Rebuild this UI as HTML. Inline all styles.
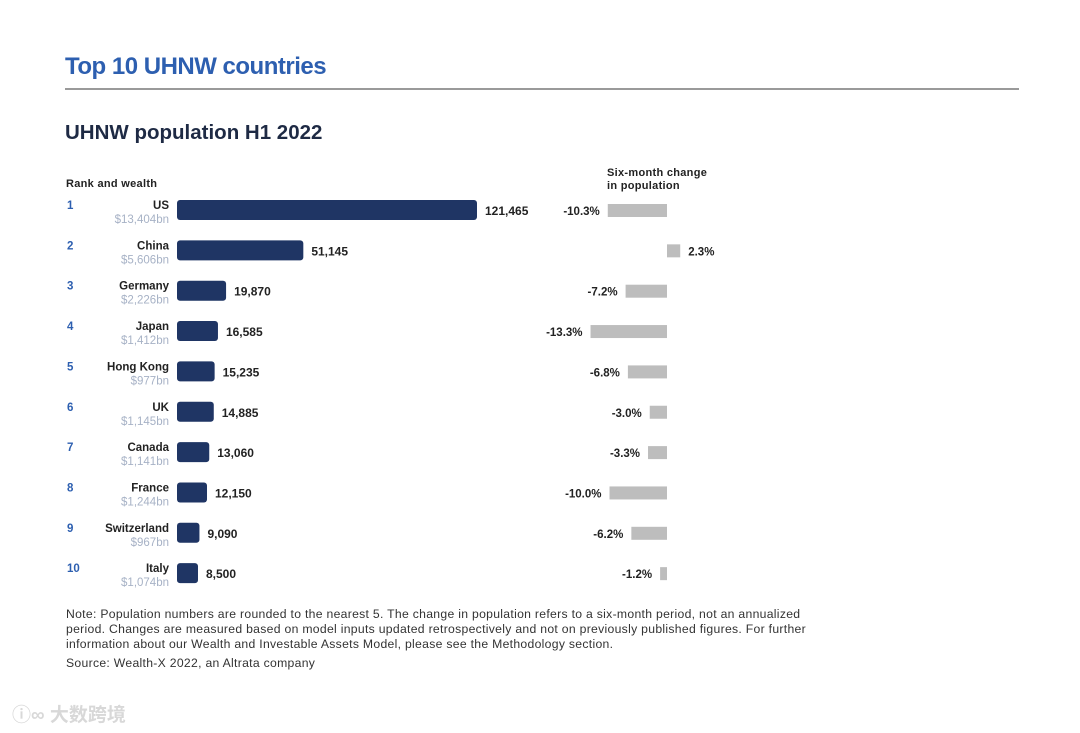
<!DOCTYPE html>
<html><head><meta charset="utf-8"><style>
body{margin:0;background:#fff;font-family:"Liberation Sans","Noto Sans CJK SC",sans-serif;}
#wrap{position:relative;width:1080px;height:733px;overflow:hidden;background:#fff}
.t{position:absolute;white-space:nowrap}
</style></head><body>
<div id="wrap">
<div class="t" style="left:65px;top:53px;font-size:24px;font-weight:bold;color:#2d5fb0;letter-spacing:-0.5px">Top 10 UHNW countries</div>
<div style="position:absolute;left:65px;top:88px;width:954px;height:2px;background:#9a9a9a"></div>
<div class="t" style="left:65px;top:121px;font-size:20.5px;font-weight:bold;color:#1e2a44;letter-spacing:0px">UHNW population H1 2022</div>
<div class="t" style="left:66px;top:178px;font-size:11px;font-weight:bold;color:#222;letter-spacing:0.3px">Rank and wealth</div>
<div class="t" style="left:607px;top:167px;font-size:11px;font-weight:bold;color:#222;line-height:13px;letter-spacing:0.3px">Six-month change<br>in population</div>
<svg id="chart" width="1080" height="733" style="position:absolute;left:0;top:0"></svg>
<div class="t" style="left:66px;top:607px;font-size:12.2px;color:#333;line-height:15px;letter-spacing:0.3px">Note: Population numbers are rounded to the nearest 5. The change in population refers to a six-month period, not an annualized<br>period. Changes are measured based on model inputs updated retrospectively and not on previously published figures. For further<br>information about our Wealth and Investable Assets Model, please see the Methodology section.</div>
<div class="t" style="left:66px;top:656px;font-size:12.2px;color:#333;letter-spacing:0.3px">Source: Wealth-X 2022, an Altrata company</div>
<div class="t" style="left:12px;top:700px;font-size:19px;color:#d8d8d8;font-weight:bold">ⓘ∞ 大数跨境</div>
</div>
<script>
const countries=["US","China","Germany","Japan","Hong Kong","UK","Canada","France","Switzerland","Italy"];
const wealth=["$13,404bn","$5,606bn","$2,226bn","$1,412bn","$977bn","$1,145bn","$1,141bn","$1,244bn","$967bn","$1,074bn"];
const population=[121465,51145,19870,16585,15235,14885,13060,12150,9090,8500];
const change=[-10.3,2.3,-7.2,-13.3,-6.8,-3.0,-3.3,-10.0,-6.2,-1.2];
const svg=document.getElementById('chart');const NS='http://www.w3.org/2000/svg';
const x=v=>177+v*300/121465;
const y=i=>210+i*40.35;
const cx=v=>667+v*5.75;
function mk(tag,a,txt){const e=document.createElementNS(NS,tag);for(const k in a)e.setAttribute(k,a[k]);if(txt!=null)e.textContent=txt;svg.appendChild(e);return e;}
countries.forEach((c,i)=>{
 const yy=y(i);
 let e=mk('text',{x:67,y:yy-1,'font-size':11.5,'font-weight':'bold',fill:'#2d5fb0'},String(i+1));
 
 e=mk('text',{x:169,y:yy-1,'font-size':11.5,'font-weight':'bold',fill:'#222','text-anchor':'end'},c);
 
 e=mk('text',{x:169,y:yy+13,'font-size':11.5,fill:'#a7b2c6','text-anchor':'end'},wealth[i]);
 
 e=mk('rect',{x:177,y:yy-10,width:x(population[i])-177,height:20,rx:3,fill:'#1f3564'});
 
 e=mk('text',{x:x(population[i])+8,y:yy+5,'font-size':12,'font-weight':'bold',fill:'#222'},population[i].toLocaleString('en-US'));
 
 const v=change[i];const x0=Math.min(cx(0),cx(v)),w=Math.abs(cx(v)-cx(0));
 e=mk('rect',{x:x0,y:yy-6,width:w,height:13,fill:'#bdbdbd'});
 
 const lbl=(v>0?'':'-')+Math.abs(v).toFixed(1)+'%';
 e=mk('text',{x:v<0?x0-8:x0+w+8,y:yy+5,'font-size':11.5,'font-weight':'bold',fill:'#222','text-anchor':v<0?'end':'start'},lbl);
 
});
</script>
</body></html>
